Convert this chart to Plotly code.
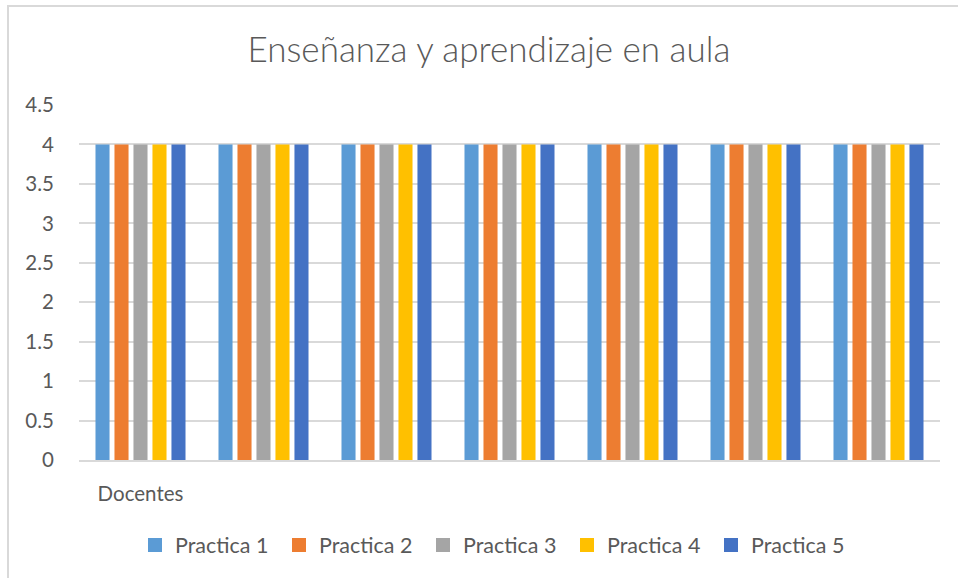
import plotly.graph_objects as go

categories = ["Docentes", "", "", "", "", "", ""]
series_names = ["Practica 1", "Practica 2", "Practica 3", "Practica 4", "Practica 5"]
practica_1 = [4, 4, 4, 4, 4, 4, 4]
practica_2 = [4, 4, 4, 4, 4, 4, 4]
practica_3 = [4, 4, 4, 4, 4, 4, 4]
practica_4 = [4, 4, 4, 4, 4, 4, 4]
practica_5 = [4, 4, 4, 4, 4, 4, 4]
colors = ["#5B9BD5", "#ED7D31", "#A5A5A5", "#FFC000", "#4472C4"]
y_ticks = [0, 0.5, 1, 1.5, 2, 2.5, 3, 3.5, 4, 4.5]
y_ticktext = ["0", "0.5", "1", "1.5", "2", "2.5", "3", "3.5", "4", "4.5"]

FONT = "Lato"
TXT = "#595959"
GRID = "#D9D9D9"

x_pos = list(range(len(categories)))
fig = go.Figure()
for name, vals, col in zip(series_names,
                           [practica_1, practica_2, practica_3, practica_4, practica_5],
                           colors):
    fig.add_trace(go.Bar(x=x_pos, y=vals, name=name, showlegend=False,
                         legendgroup=name,
                         marker=dict(color=col, line=dict(width=0))))
# legend entries with larger square swatches
for name, col in zip(series_names, colors):
    fig.add_trace(go.Scatter(x=[None], y=[None], mode="markers", name=name,
                             legendgroup=name,
                             marker=dict(symbol="square", size=14, color=col)))

W, H = 958, 578
L, R, T, B = 79, 18, 105, 118
pw, ph = W - L - R, H - T - B

def px_x(x):
    return (x - L) / pw

def px_y(y):
    return (H - B - y) / ph

fig.update_layout(
    width=W, height=H,
    margin=dict(l=L, r=R, t=T, b=B),
    paper_bgcolor="white", plot_bgcolor="white",
    barmode="group", bargap=0.228, bargroupgap=0.26,
    title=dict(text="Enseñanza y aprendizaje en aula",
               font=dict(family=FONT, size=35, color=TXT, weight=300),
               x=489 / W, xanchor="center", xref="container",
               y=1 - 50 / H, yanchor="middle", yref="container"),
    xaxis=dict(tickmode="array", tickvals=x_pos, ticktext=categories,
               range=[-0.5, len(categories) - 0.5],
               showgrid=False, zeroline=False,
               showline=True, linecolor=GRID, linewidth=1.5,
               ticks="outside", ticklen=15, tickcolor="rgba(0,0,0,0)",
               tickfont=dict(family=FONT, size=20.5, color=TXT)),
    yaxis=dict(range=[0, 4.5], tickmode="array", tickvals=y_ticks, ticktext=y_ticktext,
               showgrid=True, gridcolor=GRID, gridwidth=1.5, zeroline=False,
               showline=False,
               ticks="outside", ticklen=20, tickcolor="rgba(0,0,0,0)",
               tickfont=dict(family=FONT, size=20.5, color=TXT)),
    legend=dict(orientation="h", x=495 / W, xanchor="center", xref="container",
                y=1 - 545 / H, yanchor="middle", yref="container",
                font=dict(family=FONT, size=21.5, color=TXT),
                entrywidth=99, entrywidthmode="pixels",
                itemwidth=30, traceorder="normal"),
    showlegend=True,
    shapes=[dict(type="rect", xref="paper", yref="paper",
                 x0=px_x(8), x1=px_x(990), y0=px_y(6), y1=px_y(610),
                 line=dict(color=GRID, width=2), fillcolor="rgba(0,0,0,0)",
                 layer="above")],
)

fig.write_html("out.html", config={"displayModeBar": False},
               post_script="document.body.style.margin='0';")
